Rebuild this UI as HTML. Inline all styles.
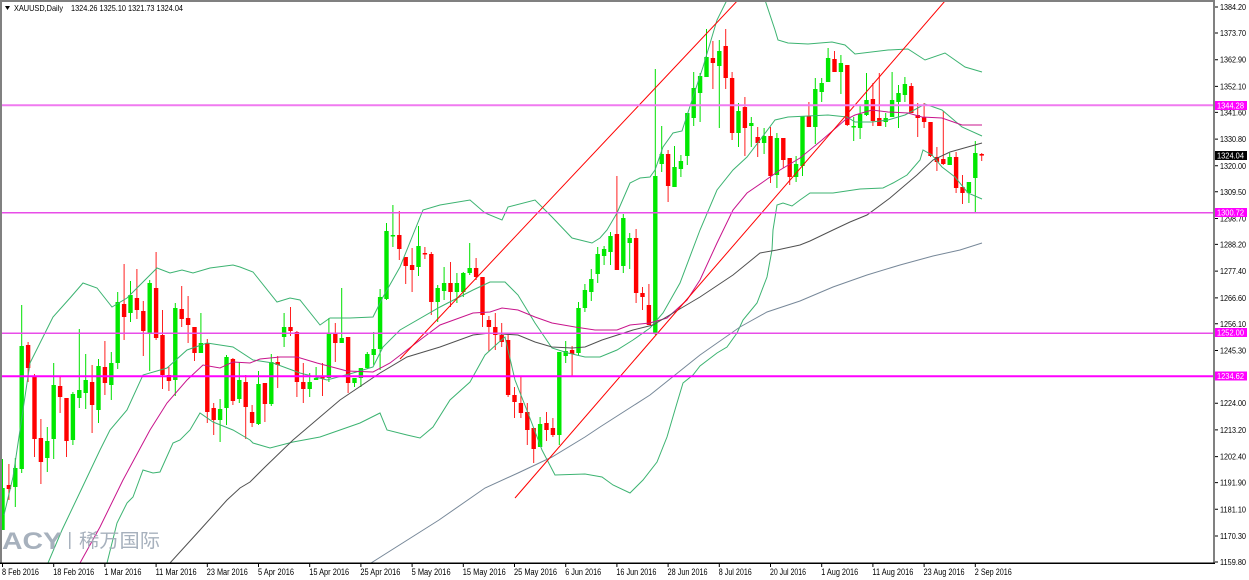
<!DOCTYPE html>
<html><head><meta charset="utf-8"><style>
html,body{margin:0;padding:0;background:#fff;}
svg{display:block;}
text{font-family:"Liberation Sans","Noto Sans CJK SC",sans-serif;}
</style></head><body>
<svg width="1249" height="580" viewBox="0 0 1249 580" xmlns="http://www.w3.org/2000/svg">
<defs><clipPath id="c"><rect x="2" y="2" width="1211" height="561"/></clipPath></defs>
<rect width="1249" height="580" fill="#fff"/>
<g clip-path="url(#c)">
<!-- green wicks -->
<path fill="none" stroke="#00e000" stroke-width="1" d="M2.5 459V530M15.3 458V507M21.7 305V473M47.3 427V472M53.7 363V459M72.9 392V445M79.3 329V408M85.7 354V409M98.5 359V423M111.3 352V400M117.7 292V369M130.5 281V322M149.7 280V371M175.3 303V396M200.9 313V353M220.1 399V442M226.5 355V425M239.3 362V403M258.5 371V425M271.3 354V406M284.1 313V347M309.7 373V397M316.1 367V380M328.9 318V382M341.7 288V343M354.5 378V387M360.9 368V387M367.3 352V369M373.7 332V365M380.1 289V370M386.5 223V300M392.9 205V247M418.5 226V276M437.7 285V322M444.1 267V300M456.9 273V303M463.3 272V297M469.7 243V275M540.1 417V447M559.3 352V445M565.7 341V363M578.5 302V355M584.9 284V312M591.3 269V301M597.7 247V283M604.1 246V265M610.5 232V265M623.3 214V273M629.7 233V269M655.3 69V335M661.7 126V172M674.5 146V187M680.9 155V177M687.3 113V165M693.7 72V126M700.1 73V122M706.5 29V77M719.3 40V128M738.5 103V147M751.3 117V147M764.1 128V154M776.9 133V188M796.1 156V182M802.5 116V176M815.3 78V144M821.7 78V102M828.1 48V82M840.9 55V94M853.7 117V141M860.1 106V139M866.5 73V116M885.7 113V127M892.1 72V117M898.5 85V128M904.9 77V102M949.7 153V165M968.9 182V203M975.3 141V212"/>
<!-- green bodies -->
<g fill="#00e800">
<rect x="0.3" y="488" width="4.4" height="42"/><rect x="13.1" y="468" width="4.4" height="19"/><rect x="19.5" y="346" width="4.4" height="123"/><rect x="45.1" y="441" width="4.4" height="17"/><rect x="51.5" y="385" width="4.4" height="54"/><rect x="70.7" y="394" width="4.4" height="46"/><rect x="77.1" y="390" width="4.4" height="8"/><rect x="83.5" y="380" width="4.4" height="13"/><rect x="96.3" y="366" width="4.4" height="44"/><rect x="109.1" y="363" width="4.4" height="22"/><rect x="115.5" y="302" width="4.4" height="61"/><rect x="128.3" y="295" width="4.4" height="18"/><rect x="147.5" y="283" width="4.4" height="50"/><rect x="173.1" y="308" width="4.4" height="72"/><rect x="198.7" y="343" width="4.4" height="10"/><rect x="217.9" y="409" width="4.4" height="11"/><rect x="224.3" y="357" width="4.4" height="51"/><rect x="237.1" y="380" width="4.4" height="19"/><rect x="256.3" y="384" width="4.4" height="40"/><rect x="269.1" y="362" width="4.4" height="42"/><rect x="281.9" y="327" width="4.4" height="10"/><rect x="307.5" y="382" width="4.4" height="7"/><rect x="313.9" y="378" width="4.4" height="2"/><rect x="326.7" y="333" width="4.4" height="45"/><rect x="339.5" y="338" width="4.4" height="5"/><rect x="352.3" y="378" width="4.4" height="5"/><rect x="358.7" y="368" width="4.4" height="10"/><rect x="365.1" y="354" width="4.4" height="14"/><rect x="371.5" y="349" width="4.4" height="6"/><rect x="377.9" y="297" width="4.4" height="52"/><rect x="384.3" y="231" width="4.4" height="68"/><rect x="390.7" y="235" width="4.4" height="1.5"/><rect x="416.3" y="246" width="4.4" height="21"/><rect x="435.5" y="288" width="4.4" height="14"/><rect x="441.9" y="283" width="4.4" height="8"/><rect x="454.7" y="283" width="4.4" height="9"/><rect x="461.1" y="273" width="4.4" height="19"/><rect x="467.5" y="268" width="4.4" height="5"/><rect x="537.9" y="424" width="4.4" height="23"/><rect x="557.1" y="352" width="4.4" height="83"/><rect x="563.5" y="351" width="4.4" height="5"/><rect x="576.3" y="308" width="4.4" height="45"/><rect x="582.7" y="290" width="4.4" height="18"/><rect x="589.1" y="279" width="4.4" height="13"/><rect x="595.5" y="254" width="4.4" height="20"/><rect x="601.9" y="249" width="4.4" height="7"/><rect x="608.3" y="236" width="4.4" height="16"/><rect x="621.1" y="218" width="4.4" height="48"/><rect x="627.5" y="238" width="4.4" height="5"/><rect x="653.1" y="176" width="4.4" height="157"/><rect x="659.5" y="154" width="4.4" height="10"/><rect x="672.3" y="167" width="4.4" height="20"/><rect x="678.7" y="161" width="4.4" height="8"/><rect x="685.1" y="113" width="4.4" height="43"/><rect x="691.5" y="88" width="4.4" height="30"/><rect x="697.9" y="76" width="4.4" height="17"/><rect x="704.3" y="57" width="4.4" height="20"/><rect x="717.1" y="51" width="4.4" height="15"/><rect x="736.3" y="111" width="4.4" height="22"/><rect x="749.1" y="123" width="4.4" height="3"/><rect x="761.9" y="136" width="4.4" height="7"/><rect x="774.7" y="138" width="4.4" height="37"/><rect x="793.9" y="164" width="4.4" height="13"/><rect x="800.3" y="116" width="4.4" height="50"/><rect x="813.1" y="89" width="4.4" height="38"/><rect x="819.5" y="83" width="4.4" height="9"/><rect x="825.9" y="58" width="4.4" height="24"/><rect x="838.7" y="63" width="4.4" height="9"/><rect x="851.5" y="126" width="4.4" height="1.5"/><rect x="857.9" y="114" width="4.4" height="14"/><rect x="864.3" y="100" width="4.4" height="15"/><rect x="883.5" y="118" width="4.4" height="4"/><rect x="889.9" y="100" width="4.4" height="17"/><rect x="896.3" y="93" width="4.4" height="9"/><rect x="902.7" y="84" width="4.4" height="11"/><rect x="947.5" y="157" width="4.4" height="8"/><rect x="966.7" y="182" width="4.4" height="11"/><rect x="973.1" y="153" width="4.4" height="25"/>
</g>
<!-- red wicks -->
<path fill="none" stroke="#ff2020" stroke-width="1" d="M8.9 464V500M28.1 342V382M34.5 374V457M40.9 419V484M60.1 376V413M66.5 398V457M92.1 365V433M104.9 341V395M124.1 264V340M136.9 269V319M143.3 301V356M156.1 252V340M162.5 310V389M168.9 367V391M181.7 286V327M188.1 296V343M194.5 327V361M207.3 339V423M213.7 403V435M232.9 358V405M245.7 375V439M252.1 405V427M264.9 383V422M277.7 356V388M290.5 307V336M296.9 331V397M303.3 363V403M322.5 363V396M335.3 323V362M348.1 337V393M399.3 211V260M405.7 257V284M412.1 248V292M424.9 247V259M431.3 252V315M450.5 262V307M476.1 258V280M482.5 277V327M488.9 316V351M495.3 313V350M501.7 323V347M508.1 335V397M514.5 387V418M520.9 377V418M527.3 403V445M533.7 428V463M546.5 412V441M552.9 418V437M572.1 346V377M616.9 176V270M636.1 229V303M642.5 287V310M648.9 284V325M668.1 150V202M712.9 41V89M725.7 29V89M732.1 72V140M744.9 97V156M757.7 127V157M770.5 127V183M783.3 138V168M789.7 158V185M808.9 102V127M834.5 51V72M847.3 65V126M872.9 83V126M879.3 73V126M911.3 83V113M917.7 103V137M924.1 103V128M930.5 122V157M936.9 147V171M943.3 111V165M956.1 152V193M962.5 175V204M981.7 153V161"/>
<!-- red bodies -->
<g fill="#ff0000">
<rect x="6.7" y="485" width="4.4" height="4"/><rect x="25.9" y="345" width="4.4" height="23"/><rect x="32.3" y="376" width="4.4" height="63"/><rect x="38.7" y="438" width="4.4" height="24"/><rect x="57.9" y="386" width="4.4" height="11"/><rect x="64.3" y="398" width="4.4" height="43"/><rect x="89.9" y="382" width="4.4" height="23"/><rect x="102.7" y="367" width="4.4" height="16"/><rect x="121.9" y="304" width="4.4" height="13"/><rect x="134.7" y="298" width="4.4" height="12"/><rect x="141.1" y="311" width="4.4" height="20"/><rect x="153.9" y="288" width="4.4" height="50"/><rect x="160.3" y="335" width="4.4" height="40"/><rect x="166.7" y="375" width="4.4" height="6"/><rect x="179.5" y="309" width="4.4" height="10"/><rect x="185.9" y="318" width="4.4" height="7"/><rect x="192.3" y="327" width="4.4" height="26"/><rect x="205.1" y="343" width="4.4" height="69"/><rect x="211.5" y="408" width="4.4" height="12"/><rect x="230.7" y="359" width="4.4" height="42"/><rect x="243.5" y="382" width="4.4" height="25"/><rect x="249.9" y="412" width="4.4" height="11"/><rect x="262.7" y="383" width="4.4" height="21"/><rect x="275.5" y="362" width="4.4" height="3"/><rect x="288.3" y="327" width="4.4" height="4"/><rect x="294.7" y="332" width="4.4" height="50"/><rect x="301.1" y="382" width="4.4" height="7"/><rect x="320.3" y="377" width="4.4" height="1.5"/><rect x="333.1" y="333" width="4.4" height="10"/><rect x="345.9" y="337" width="4.4" height="46"/><rect x="397.1" y="235" width="4.4" height="14"/><rect x="403.5" y="257" width="4.4" height="9"/><rect x="409.9" y="265" width="4.4" height="5"/><rect x="422.7" y="253" width="4.4" height="1.5"/><rect x="429.1" y="254" width="4.4" height="48"/><rect x="448.3" y="283" width="4.4" height="9"/><rect x="473.9" y="268" width="4.4" height="9"/><rect x="480.3" y="277" width="4.4" height="38"/><rect x="486.7" y="320" width="4.4" height="7"/><rect x="493.1" y="327" width="4.4" height="8"/><rect x="499.5" y="335" width="4.4" height="7"/><rect x="505.9" y="340" width="4.4" height="55"/><rect x="512.3" y="395" width="4.4" height="7"/><rect x="518.7" y="403" width="4.4" height="10"/><rect x="525.1" y="412" width="4.4" height="18"/><rect x="531.5" y="428" width="4.4" height="21"/><rect x="544.3" y="423" width="4.4" height="7"/><rect x="550.7" y="428" width="4.4" height="7"/><rect x="569.9" y="350" width="4.4" height="4"/><rect x="614.7" y="234" width="4.4" height="36"/><rect x="633.9" y="238" width="4.4" height="55"/><rect x="640.3" y="293" width="4.4" height="4"/><rect x="646.7" y="305" width="4.4" height="20"/><rect x="665.9" y="154" width="4.4" height="32"/><rect x="710.7" y="58" width="4.4" height="5"/><rect x="723.5" y="46" width="4.4" height="32"/><rect x="729.9" y="78" width="4.4" height="55"/><rect x="742.7" y="107" width="4.4" height="21"/><rect x="755.5" y="137" width="4.4" height="6"/><rect x="768.3" y="136" width="4.4" height="40"/><rect x="781.1" y="138" width="4.4" height="22"/><rect x="787.5" y="158" width="4.4" height="19"/><rect x="806.7" y="116" width="4.4" height="11"/><rect x="832.3" y="59" width="4.4" height="13"/><rect x="845.1" y="65" width="4.4" height="60"/><rect x="870.7" y="99" width="4.4" height="22"/><rect x="877.1" y="118" width="4.4" height="8"/><rect x="909.1" y="86" width="4.4" height="27"/><rect x="915.5" y="115" width="4.4" height="3"/><rect x="921.9" y="117" width="4.4" height="5"/><rect x="928.3" y="122" width="4.4" height="34"/><rect x="934.7" y="157" width="4.4" height="5"/><rect x="941.1" y="159" width="4.4" height="5"/><rect x="953.9" y="157" width="4.4" height="31"/><rect x="960.3" y="187" width="4.4" height="6"/><rect x="979.5" y="154" width="4.4" height="1.6"/>
</g>
<!-- indicators -->
<g fill="none" stroke-width="1">
<polyline stroke="#3cb371" points="4,515 13,477 20,430 30,363 53,317 70,298 83,283 97,288 112,307 127,298 143,282 157,268 170,273 182,270 193,273 210,268 233,265 240,267 253,272 277,302 290,298 300,300 320,325 330,318 350,318 373,317 383,297 400,267 423,210 440,205 470,200 485,213 502,220 508,207 535,200 552,217 572,238 592,243 600,238 607,230 617,213 630,183 640,178 650,177 655,170 663,147 673,133 682,131 693,97 703,67 717,20 727,0 745,-25 760,-10 765,0 775,30 778,40 788,43 808,44 832,42 845,45 855,54 888,50 908,49 925,60 945,53 965,67 982,72"/>
<polyline stroke="#3cb371" points="48,563 62,530 82,488 100,450 110,430 127,410 143,375 167,368 187,350 207,343 233,347 253,360 273,363 300,373 327,380 353,373 373,367 383,347 400,330 440,307 473,290 490,282 505,282 518,295 535,323 552,348 568,353 585,357 600,357 617,350 633,340 650,328 663,313 680,283 700,230 717,190 733,170 747,157 760,140 775,120 788,117 808,116 828,115 847,117 855,122 872,122 888,120 905,115 925,104 942,110 962,127 982,136"/>
<polyline stroke="#3cb371" points="107,563 117,523 127,503 133,497 143,470 153,473 160,472 173,443 180,440 190,430 200,413 213,422 233,430 250,440 253,443 270,448 293,442 320,437 340,430 360,423 380,413 387,430 407,435 420,438 433,427 450,400 470,382 485,355 498,343 505,337 515,380 528,413 542,450 555,475 585,474 602,477 613,485 630,493 643,480 657,462 667,437 677,403 683,383 693,375 700,366 717,353 727,347 737,333 743,320 757,303 767,277 772,250 773,230 777,205 783,203 792,206 800,200 810,193 833,193 860,189 883,188 893,183 907,175 920,160 923,150 932,155 942,167 955,177 968,193 982,199"/>
<polyline stroke="#c8148c" points="80,563 100,527 123,480 150,430 167,403 187,380 203,365 220,368 233,362 250,363 260,359 280,357 297,357 317,363 347,371 373,372 390,363 420,340 440,325 473,313 490,312 502,308 518,310 535,317 552,323 575,327 595,330 617,330 630,325 650,323 667,318 687,300 700,280 717,243 733,210 747,193 763,182 780,170 800,158 822,140 845,120 855,115 872,110 888,112 908,113 922,117 942,118 962,125 982,125"/>
<polyline stroke="#505050" points="170,563 200,530 227,500 240,488 250,482 264,468 293,440 340,400 380,373 407,357 440,347 473,335 490,333 502,334 518,335 535,342 552,347 572,348 585,347 602,340 633,330 653,325 673,313 700,297 733,275 760,253 777,250 800,245 810,241 833,230 850,222 867,215 890,198 917,175 933,160 950,152 982,143"/>
<polyline stroke="#778899" points="371,563 439,520 485,488 518,473 552,457 585,437 600,427 650,395 700,355 740,327 767,312 800,301 833,287 867,275 900,265 933,256 960,250 982,243"/>
<line stroke="#ff0000" x1="400" y1="359" x2="740" y2="-2"/>
<line stroke="#ff0000" x1="515" y1="498" x2="945" y2="1"/>
</g>
<!-- horizontal lines -->
<line x1="0" y1="105.3" x2="1214" y2="105.3" stroke="#f07af0" stroke-width="2"/>
<line x1="0" y1="212.7" x2="1214" y2="212.7" stroke="#e84de8" stroke-width="1.5"/>
<line x1="0" y1="333.2" x2="1214" y2="333.2" stroke="#e84de8" stroke-width="1.5"/>
<line x1="0" y1="376.2" x2="1214" y2="376.2" stroke="#ff00ff" stroke-width="2"/>
<!-- watermark -->
<g fill="#a3adba" opacity="0.95">
<text x="2" y="549" font-size="24" font-weight="bold" textLength="60" lengthAdjust="spacingAndGlyphs">ACY</text>
<rect x="69" y="532" width="1.5" height="17"/>
<text x="79" y="547" font-size="19" textLength="81" lengthAdjust="spacingAndGlyphs" font-family="'Liberation Sans','Noto Sans CJK SC',sans-serif">稀万国际</text>
</g>
</g>
<!-- frame -->
<rect x="0" y="0" width="1215" height="2" fill="#808080"/>
<rect x="0" y="0" width="2" height="564" fill="#808080"/>
<rect x="1213" y="0" width="2" height="564" fill="#808080"/>
<rect x="0" y="562.5" width="1215" height="1.5" fill="#000"/>
<!-- title -->
<polygon points="5,6 10,6 7.5,10" fill="#000"/>
<text x="14" y="11" font-size="8.5" fill="#000" textLength="49" lengthAdjust="spacingAndGlyphs">XAUUSD,Daily</text>
<text x="71" y="11" font-size="8.5" fill="#000" textLength="112" lengthAdjust="spacingAndGlyphs">1324.26 1325.10 1321.73 1324.04</text>
<!-- price axis -->
<g stroke="#000" stroke-width="1">
<path d="M1215 7H1218M1215 33H1218M1215 59.7H1218M1215 86.4H1218M1215 112.4H1218M1215 139.1H1218M1215 165.8H1218M1215 191.8H1218M1215 218.5H1218M1215 244.4H1218M1215 271.1H1218M1215 297.9H1218M1215 323.8H1218M1215 350.5H1218M1215 403.2H1218M1215 429.9H1218M1215 456.6H1218M1215 482.6H1218M1215 509.3H1218M1215 536H1218M1215 562H1218"/>
</g>
<g font-size="8.5" fill="#000">
<text x="1220" y="10" textLength="26" lengthAdjust="spacingAndGlyphs">1384.20</text>
<text x="1220" y="36" textLength="26" lengthAdjust="spacingAndGlyphs">1373.70</text>
<text x="1220" y="62.7" textLength="26" lengthAdjust="spacingAndGlyphs">1362.90</text>
<text x="1220" y="89.4" textLength="26" lengthAdjust="spacingAndGlyphs">1352.10</text>
<text x="1220" y="115.4" textLength="26" lengthAdjust="spacingAndGlyphs">1341.60</text>
<text x="1220" y="142.1" textLength="26" lengthAdjust="spacingAndGlyphs">1330.80</text>
<text x="1220" y="168.8" textLength="26" lengthAdjust="spacingAndGlyphs">1320.00</text>
<text x="1220" y="194.8" textLength="26" lengthAdjust="spacingAndGlyphs">1309.50</text>
<text x="1220" y="221.5" textLength="26" lengthAdjust="spacingAndGlyphs">1298.70</text>
<text x="1220" y="247.4" textLength="26" lengthAdjust="spacingAndGlyphs">1288.20</text>
<text x="1220" y="274.1" textLength="26" lengthAdjust="spacingAndGlyphs">1277.40</text>
<text x="1220" y="300.9" textLength="26" lengthAdjust="spacingAndGlyphs">1266.60</text>
<text x="1220" y="326.8" textLength="26" lengthAdjust="spacingAndGlyphs">1256.10</text>
<text x="1220" y="353.5" textLength="26" lengthAdjust="spacingAndGlyphs">1245.30</text>
<text x="1220" y="406.2" textLength="26" lengthAdjust="spacingAndGlyphs">1224.00</text>
<text x="1220" y="432.9" textLength="26" lengthAdjust="spacingAndGlyphs">1213.20</text>
<text x="1220" y="459.6" textLength="26" lengthAdjust="spacingAndGlyphs">1202.40</text>
<text x="1220" y="485.6" textLength="26" lengthAdjust="spacingAndGlyphs">1191.90</text>
<text x="1220" y="512.3" textLength="26" lengthAdjust="spacingAndGlyphs">1181.10</text>
<text x="1220" y="539" textLength="26" lengthAdjust="spacingAndGlyphs">1170.30</text>
<text x="1220" y="565" textLength="26" lengthAdjust="spacingAndGlyphs">1159.80</text>
</g>
<!-- price boxes -->
<rect x="1215" y="101" width="32" height="9" fill="#ff00ff"/>
<text x="1217" y="108.5" font-size="8.5" fill="#fff" textLength="27" lengthAdjust="spacingAndGlyphs">1344.28</text>
<rect x="1215" y="151" width="32" height="9" fill="#000"/>
<text x="1217" y="158.5" font-size="8.5" fill="#fff" textLength="27" lengthAdjust="spacingAndGlyphs">1324.04</text>
<rect x="1215" y="208" width="32" height="9" fill="#ff00ff"/>
<text x="1217" y="215.5" font-size="8.5" fill="#fff" textLength="27" lengthAdjust="spacingAndGlyphs">1300.72</text>
<rect x="1215" y="328" width="32" height="9" fill="#ff00ff"/>
<text x="1217" y="335.5" font-size="8.5" fill="#fff" textLength="27" lengthAdjust="spacingAndGlyphs">1252.00</text>
<rect x="1215" y="371.5" width="32" height="9" fill="#ff00ff"/>
<text x="1217" y="379" font-size="8.5" fill="#fff" textLength="27" lengthAdjust="spacingAndGlyphs">1234.62</text>
<!-- date axis -->
<path stroke="#000" stroke-width="1" d="M2.5 563V567M53.7 563V567M104.9 563V567M156.1 563V567M207.3 563V567M258.5 563V567M309.7 563V567M360.9 563V567M412.1 563V567M463.3 563V567M514.5 563V567M565.7 563V567M616.9 563V567M668.1 563V567M719.3 563V567M770.5 563V567M821.7 563V567M872.9 563V567M924.1 563V567M975.3 563V567"/>
<g font-size="9" fill="#000">
<text x="2" y="575" textLength="37" lengthAdjust="spacingAndGlyphs">8 Feb 2016</text>
<text x="53.2" y="575" textLength="41" lengthAdjust="spacingAndGlyphs">18 Feb 2016</text>
<text x="104.4" y="575" textLength="37" lengthAdjust="spacingAndGlyphs">1 Mar 2016</text>
<text x="155.6" y="575" textLength="41" lengthAdjust="spacingAndGlyphs">11 Mar 2016</text>
<text x="206.8" y="575" textLength="41" lengthAdjust="spacingAndGlyphs">23 Mar 2016</text>
<text x="258" y="575" textLength="36" lengthAdjust="spacingAndGlyphs">5 Apr 2016</text>
<text x="309.2" y="575" textLength="40" lengthAdjust="spacingAndGlyphs">15 Apr 2016</text>
<text x="360.4" y="575" textLength="40" lengthAdjust="spacingAndGlyphs">25 Apr 2016</text>
<text x="411.6" y="575" textLength="39" lengthAdjust="spacingAndGlyphs">5 May 2016</text>
<text x="462.8" y="575" textLength="43" lengthAdjust="spacingAndGlyphs">15 May 2016</text>
<text x="514" y="575" textLength="43" lengthAdjust="spacingAndGlyphs">25 May 2016</text>
<text x="565.2" y="575" textLength="36" lengthAdjust="spacingAndGlyphs">6 Jun 2016</text>
<text x="616.4" y="575" textLength="40" lengthAdjust="spacingAndGlyphs">16 Jun 2016</text>
<text x="667.6" y="575" textLength="40" lengthAdjust="spacingAndGlyphs">28 Jun 2016</text>
<text x="718.8" y="575" textLength="33" lengthAdjust="spacingAndGlyphs">8 Jul 2016</text>
<text x="770" y="575" textLength="36" lengthAdjust="spacingAndGlyphs">20 Jul 2016</text>
<text x="821.2" y="575" textLength="37" lengthAdjust="spacingAndGlyphs">1 Aug 2016</text>
<text x="872.4" y="575" textLength="41" lengthAdjust="spacingAndGlyphs">11 Aug 2016</text>
<text x="923.6" y="575" textLength="41" lengthAdjust="spacingAndGlyphs">23 Aug 2016</text>
<text x="974.8" y="575" textLength="37" lengthAdjust="spacingAndGlyphs">2 Sep 2016</text>
</g>
</svg>
</body></html>
